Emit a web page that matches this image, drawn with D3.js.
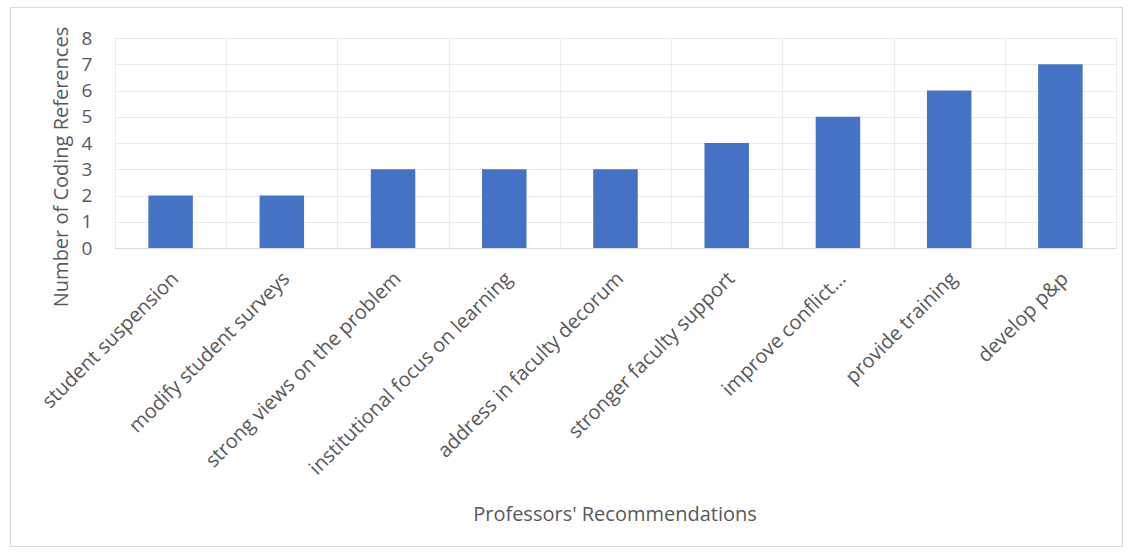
<!DOCTYPE html>
<html>
<head>
<meta charset="utf-8">
<script src="https://cdn.jsdelivr.net/npm/d3@7"></script>
<style>
  body { margin: 0; background: #fff; }
  text { font-family: "Open Sans", "Liberation Sans", sans-serif; fill: #595959; }
</style>
</head>
<body>
<script>
  // categories and values
  var categories = ['student suspension', 'modify student surveys', 'strong views on the problem',
                    'institutional focus on learning', 'address in faculty decorum', 'stronger faculty support',
                    'improve conflict…', 'provide training', 'develop p&p'];
  var values = [2, 2, 3, 3, 3, 4, 5, 6, 7];
  var yTicks = [0, 1, 2, 3, 4, 5, 6, 7, 8];

  var W = 1132, H = 554;
  var plotLeft = 115, plotRight = 1116, plotTop = 38, plotBottom = 248;

  var svg = d3.select('body').append('svg').attr('width', W).attr('height', H);

  // chart border
  svg.append('rect')
     .attr('x', 10.5).attr('y', 7.5).attr('width', 1112).attr('height', 539)
     .attr('fill', 'none').attr('stroke', '#d9d9d9');

  var x = d3.scaleBand().domain(categories).range([plotLeft, plotRight]).paddingInner(0.6).paddingOuter(0.3);
  var y = d3.scaleLinear().domain([0, 8]).range([plotBottom, plotTop]);

  var band = (plotRight - plotLeft) / categories.length;

  // horizontal grid
  svg.append('g').selectAll('line').data(yTicks).enter().append('line')
     .attr('x1', plotLeft).attr('x2', plotRight)
     .attr('y1', function(d) { return Math.round(y(d)) + 0.5; })
     .attr('y2', function(d) { return Math.round(y(d)) + 0.5; })
     .attr('stroke', function(d) { return d === 0 ? '#d9d9d9' : '#ececec'; });

  // vertical grid at category boundaries
  svg.append('g').selectAll('line').data(d3.range(categories.length + 1)).enter().append('line')
     .attr('x1', function(i) { return Math.round(plotLeft + i * band) + 0.5; })
     .attr('x2', function(i) { return Math.round(plotLeft + i * band) + 0.5; })
     .attr('y1', plotTop).attr('y2', plotBottom)
     .attr('stroke', '#ececec');

  // bars
  svg.append('g').selectAll('rect').data(values).enter().append('rect')
     .attr('x', function(d, i) { return x(categories[i]); })
     .attr('width', x.bandwidth())
     .attr('y', function(d) { return y(d); })
     .attr('height', function(d) { return y(0) - y(d); })
     .attr('fill', '#4472c4');

  // y tick labels
  svg.append('g').selectAll('text').data(yTicks).enter().append('text')
     .attr('x', 87).attr('y', function(d) { return y(d); })
     .attr('dy', '0.35em')
     .attr('text-anchor', 'middle')
     .style('font-size', '19px')
     .text(function(d) { return d; });

  // x tick labels, rotated
  svg.append('g').selectAll('text').data(categories).enter().append('text')
     .attr('transform', function(d) {
       return 'translate(' + (x(d) + x.bandwidth() / 2 + 9) + ',' + 280 + ') rotate(-45)';
     })
     .attr('text-anchor', 'end')
     .style('font-size', '20px')
     .text(function(d) { return d; });

  // axis titles
  svg.append('text')
     .attr('transform', 'translate(68,167) rotate(-90)')
     .attr('text-anchor', 'middle')
     .style('font-size', '20px')
     .text('Number of Coding References');

  svg.append('text')
     .attr('x', 615).attr('y', 521)
     .attr('text-anchor', 'middle')
     .style('font-size', '20px')
     .text("Professors' Recommendations");
</script>
</body>
</html>
